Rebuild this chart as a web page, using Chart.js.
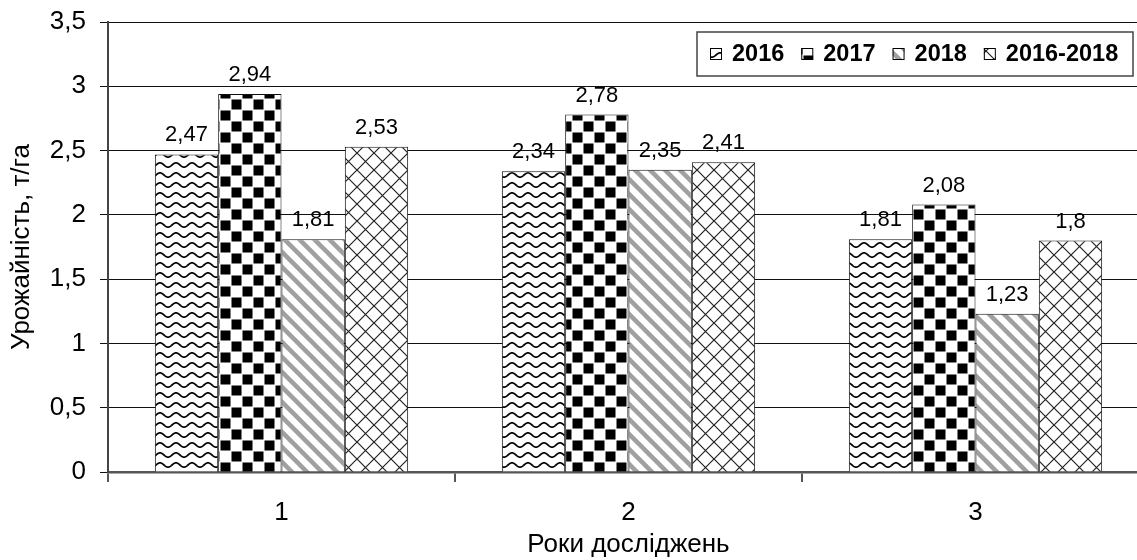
<!DOCTYPE html>
<html lang="uk">
<head>
<meta charset="utf-8">
<script src="https://cdn.jsdelivr.net/npm/chart.js@4/dist/chart.umd.min.js"></script>
<style>
  html, body { margin: 0; padding: 0; background: #fff; overflow: hidden; }
  #wrap { width: 1150px; height: 560px; }
</style>
</head>
<body>
<div id="wrap"><canvas id="c" width="1150" height="560"></canvas></div>
<script>
// Роки досліджень та урожайність, т/га
const categories = ['1', '2', '3'];
const seriesNames = ['2016', '2017', '2018', '2016-2018'];
const yield2016 = [2.47, 2.34, 1.81];
const yield2017 = [2.94, 2.78, 2.08];
const yield2018 = [1.81, 2.35, 1.23];
const yieldAvg = [2.53, 2.41, 1.8];
const yTickValues = [0, 0.5, 1, 1.5, 2, 2.5, 3, 3.5];

const FONT = "'Liberation Sans', Arial, sans-serif";
const fmt = v => String(v).replace('.', ',');

function tile(w, h, draw) {
  const c = document.createElement('canvas');
  c.width = w; c.height = h;
  const g = c.getContext('2d');
  g.fillStyle = '#fff';
  g.fillRect(0, 0, w, h);
  draw(g, w, h);
  return document.createElement('canvas').getContext('2d').createPattern(c, 'repeat');
}

// wavy lines
const patWave = tile(16, 10, (g, w, h) => {
  g.strokeStyle = '#000';
  g.lineWidth = 1.7;
  g.beginPath();
  for (let x = -1; x <= w + 1; x += 0.5) {
    const y = 5 - 2.2 * Math.cos(2 * Math.PI * x / w);
    if (x === -1) g.moveTo(x, y); else g.lineTo(x, y);
  }
  g.stroke();
});

// checkerboard
const patCheck = tile(22, 22, (g) => {
  g.fillStyle = '#000';
  g.fillRect(0.5, 0.5, 10, 10);
  g.fillRect(11.5, 11.5, 10, 10);
});

// grey diagonal stripes
const patStripe = tile(15, 15, (g, w, h) => {
  g.strokeStyle = '#a0a0a0';
  g.lineWidth = 4.5;
  for (let k = -1; k <= 1; k++) {
    g.beginPath();
    g.moveTo(k * w - 2, -2);
    g.lineTo(k * w + w + 2, h + 2);
    g.stroke();
  }
});

// diagonal lattice
const patLattice = tile(17, 17, (g, w, h) => {
  g.strokeStyle = '#222';
  g.lineWidth = 1.2;
  g.beginPath();
  g.moveTo(0, 0); g.lineTo(w, h);
  g.moveTo(w, 0); g.lineTo(0, h);
  g.stroke();
});

const patterns = [patWave, patCheck, patStripe, patLattice];
const seriesData = [yield2016, yield2017, yield2018, yieldAvg];

const valueLabels = {
  id: 'valueLabels',
  afterDatasetsDraw(chart) {
    const ctx = chart.ctx;
    ctx.save();
    ctx.font = '22px ' + FONT;
    ctx.fillStyle = '#000';
    ctx.textAlign = 'center';
    ctx.textBaseline = 'alphabetic';
    chart.data.datasets.forEach((ds, i) => {
      chart.getDatasetMeta(i).data.forEach((bar, j) => {
        ctx.fillText(fmt(ds.data[j]), bar.x, bar.y - 13);
      });
    });
    ctx.restore();
  }
};

const boxedLegend = {
  id: 'boxedLegend',
  afterDraw(chart) {
    const ctx = chart.ctx;
    const left = 697, top = 32, right = 1133, bottom = 76;
    ctx.save();
    ctx.fillStyle = '#fff';
    ctx.fillRect(left, top, right - left, bottom - top);
    ctx.strokeStyle = '#444';
    ctx.lineWidth = 1.5;
    ctx.strokeRect(left, top, right - left, bottom - top);
    ctx.font = 'bold 23.5px ' + FONT;
    ctx.textBaseline = 'middle';
    ctx.textAlign = 'left';
    const cy = (top + bottom) / 2;
    let x = left + 13;
    chart.data.datasets.forEach((ds) => {
      ctx.fillStyle = ds.backgroundColor;
      ctx.fillRect(x, cy - 6, 12, 12);
      ctx.strokeStyle = '#000';
      ctx.lineWidth = 1;
      ctx.strokeRect(x + 0.5, cy - 5.5, 11, 11);
      x += 22;
      ctx.fillStyle = '#000';
      ctx.fillText(ds.label, x, cy + 1);
      x += ctx.measureText(ds.label).width + 17;
    });
    ctx.restore();
  }
};

new Chart(document.getElementById('c'), {
  type: 'bar',
  data: {
    labels: categories,
    datasets: seriesNames.map((name, i) => ({
      label: name,
      data: seriesData[i],
      backgroundColor: patterns[i],
      borderColor: '#111',
      borderWidth: 1,
      borderSkipped: 'bottom'
    }))
  },
  options: {
    responsive: false,
    animation: false,
    devicePixelRatio: 1,
    layout: { padding: { left: 0, top: 22, right: 1, bottom: 0 } },
    datasets: { bar: { categoryPercentage: 0.73, barPercentage: 1 } },
    plugins: { legend: { display: false }, tooltip: { enabled: false } },
    scales: {
      x: {
        grid: { offset: true, drawOnChartArea: false, drawTicks: true, tickLength: 10, color: '#555', lineWidth: 2 },
        border: { display: true, color: '#555', width: 2.5 },
        ticks: { color: '#000', font: { family: FONT, size: 26 }, padding: 15 },
        title: { display: true, text: 'Роки досліджень', color: '#000', font: { family: FONT, size: 26 }, padding: { top: 0, bottom: 0 } },
        afterFit(scale) { scale.height = 88; }
      },
      y: {
        min: 0, max: 3.5,
        afterBuildTicks(scale) { scale.ticks = yTickValues.map(v => ({ value: v })); },
        grid: { color: '#111', lineWidth: 1, tickLength: 8, drawTicks: true },
        border: { display: true, color: '#444', width: 2 },
        ticks: { color: '#000', font: { family: FONT, size: 26 }, padding: 14, callback: v => fmt(v) },
        title: { display: true, text: 'Урожайність, т/га', color: '#000', font: { family: FONT, size: 26 }, padding: { top: 6, bottom: 0 } },
        afterFit(scale) {
          scale.width = 108;
          scale.paddingTop = 0;
          scale.paddingBottom = 0;
        }
      }
    }
  },
  plugins: [valueLabels, boxedLegend]
});
</script>
</body>
</html>
